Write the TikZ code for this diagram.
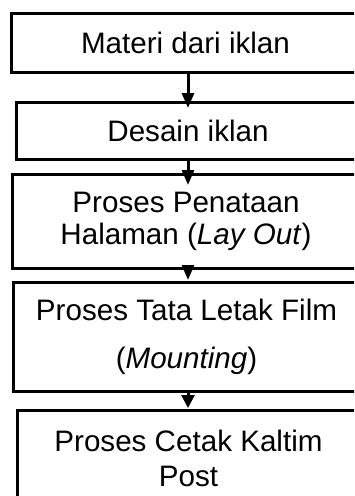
\documentclass[tikz,border=0pt]{standalone}
\usepackage{fontspec}
\setmainfont{Liberation Sans}
\usetikzlibrary{arrows.meta,calc}
\begin{document}
\begin{tikzpicture}[x=1pt,y=-1pt,
  flowbox/.style={draw=black, line width=3pt, rectangle, outer sep=0pt, inner sep=0pt,
    align=center, font=\fontsize{29.6}{33.8}\selectfont},
  flowarrow/.style={line width=3pt, -{Triangle[length=15pt,width=12pt]}}]
\useasboundingbox (0,0) rectangle (354,496);
\clip (0,0) rectangle (354,496);
\node[flowbox, minimum width=349pt, minimum height=59pt] (b1) at (185.5,42.5) {Materi dari iklan};
\node[flowbox, minimum width=344pt, minimum height=57pt] (b2) at (188,130.5) {Desain iklan};
\node[flowbox, minimum width=348pt, minimum height=93.5pt] (b3) at (186,221.25) {Proses Penataan\\[-1.8pt]Halaman (\textit{Lay Out})};
\node[flowbox, minimum width=347pt, minimum height=109pt] (b4) at (186.5,336.5) {Proses Tata Letak Film\\[14.2pt](\textit{Mounting})};
\node[flowbox, minimum width=343pt, minimum height=96pt] (b5) at (188.5,458) {Proses Cetak Kaltim\\[1.2pt]Post};
\coordinate (ax) at (188,0);
\draw[flowarrow, shorten >=-6pt] (b1.south -| ax) -- (b2.north -| ax);
\draw[flowarrow, shorten >=-10.5pt] (b2.south -| ax) -- (b3.north -| ax);
\draw[flowarrow, shorten >=2pt] (b3.south -| ax) -- (b4.north -| ax);
\draw[flowarrow, -{Triangle[length=13pt,width=13pt]}, shorten >=2pt] (b4.south -| ax) -- (b5.north -| ax);
\end{tikzpicture}
\end{document}
